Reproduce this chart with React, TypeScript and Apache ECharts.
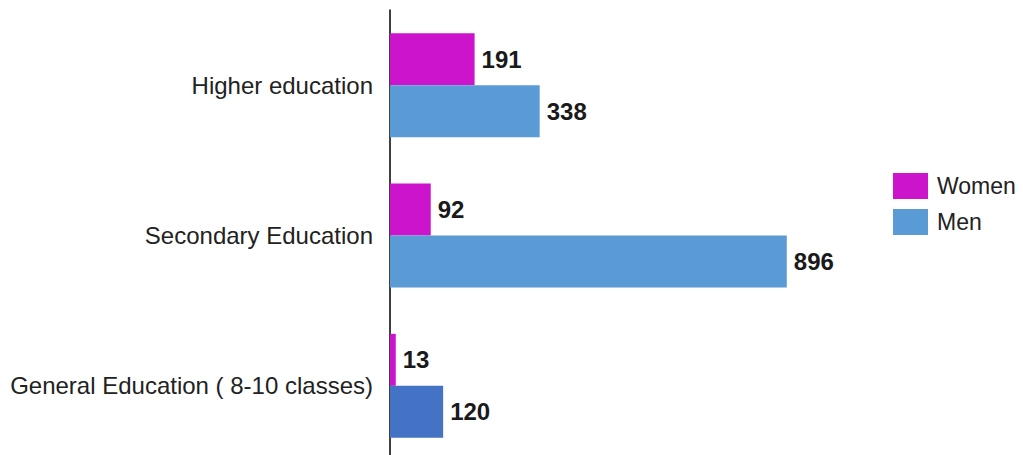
import React, { useEffect, useRef } from "react";
import * as echarts from "echarts";

const categories = ["Higher education", "Secondary Education", "General Education ( 8-10 classes)"];
const women = [191, 92, 13];
const men = [338, 896, 120];
const menColors = ["#5b9bd5", "#5b9bd5", "#4472c4"];

export default function App() {
  const ref = useRef<HTMLDivElement>(null);
  useEffect(() => {
    const chart = echarts.init(ref.current!, null, { renderer: "svg" });
    const labelStyle = {
      show: true,
      position: "right" as const,
      distance: 7,
      fontFamily: "Liberation Sans, Arial, sans-serif",
      fontSize: 24,
      fontWeight: "bold" as const,
      color: "#1a1a1a",
    };
    chart.setOption({
      animation: false,
      backgroundColor: "#ffffff",
      grid: { left: 390, right: 13, top: 10, bottom: 1, containLabel: false },
      legend: {
        orient: "vertical",
        left: 893,
        top: 173,
        padding: 0,
        itemWidth: 35,
        itemHeight: 26,
        itemGap: 10,
        icon: "rect",
        textStyle: {
          fontFamily: "Liberation Sans, Arial, sans-serif",
          fontSize: 23,
          color: "#222",
          padding: [0, 0, 0, 4],
        },
        data: ["Women", "Men"],
      },
      xAxis: {
        type: "value",
        min: 0,
        max: 1400,
        show: false,
        splitLine: { show: false },
      },
      yAxis: {
        type: "category",
        data: categories,
        inverse: true,
        axisLine: { show: true, lineStyle: { color: "#000", width: 1.5 } },
        axisTick: { show: false },
        axisLabel: {
          margin: 17,
          fontFamily: "Liberation Sans, Arial, sans-serif",
          fontSize: 24,
          color: "#222",
        },
      },
      series: [
        {
          name: "Women",
          type: "bar",
          data: women,
          barWidth: 52,
          barGap: "0%",
          itemStyle: { color: "#cc14cc" },
          label: labelStyle,
        },
        {
          name: "Men",
          type: "bar",
          data: men.map((v, i) => ({ value: v, itemStyle: { color: menColors[i] } })),
          barWidth: 52,
          barGap: "0%",
          itemStyle: { color: "#5b9bd5" },
          label: labelStyle,
        },
      ],
    });
    return () => chart.dispose();
  }, []);
  return (
    <div
      ref={ref}
      style={{ position: "absolute", left: 0, top: 0, width: 1023, height: 462 }}
    />
  );
}
